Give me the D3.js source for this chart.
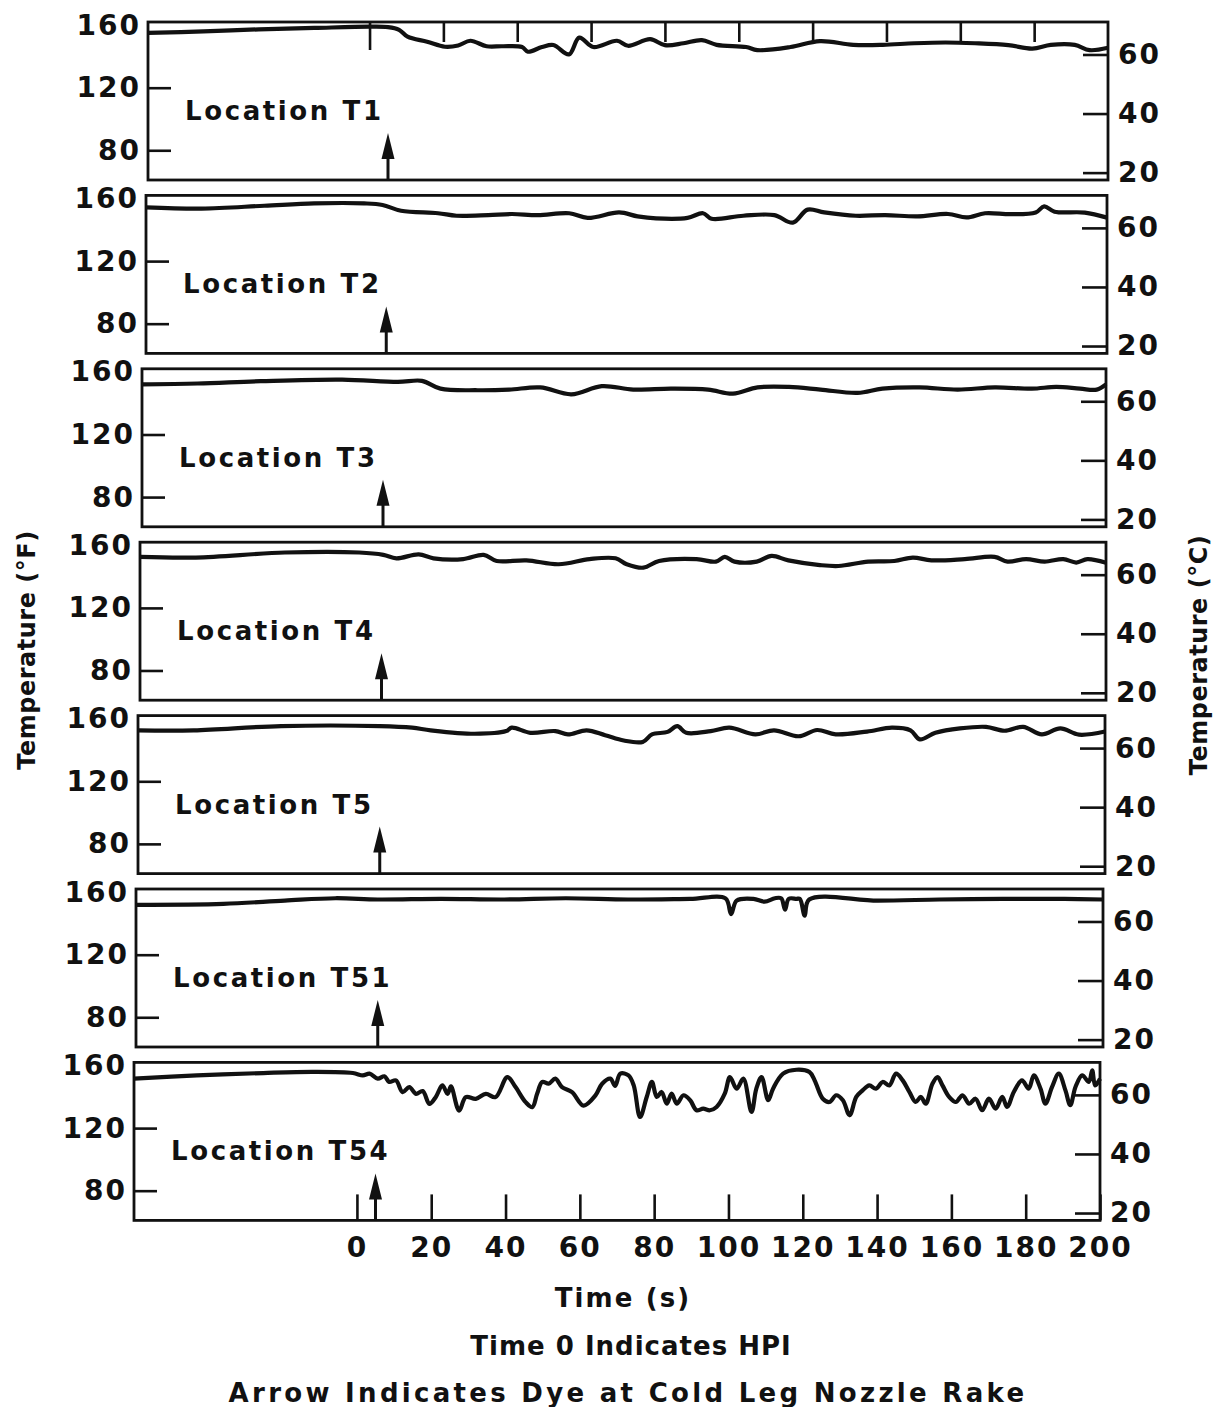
<!DOCTYPE html>
<html>
<head>
<meta charset="utf-8">
<script src="https://cdn.jsdelivr.net/npm/d3@7"></script>
<style>
 body{margin:0;background:#fff}
 text{font-family:"DejaVu Sans",sans-serif;font-weight:bold;fill:#111}
</style>
</head>
<body>
<svg width="1215" height="1407"></svg>
<script>
'use strict';
//..........Data (time s, temperature F)................
const seriesT1 = [[-60,155],[-45,156],[-30,157.3],[-15,158.2],[0,159],[5,158.7],[8,157],[10.3,152.6],[15.6,149.4],[20.4,146.2],[24,147],[27.3,150],[31.7,146.5],[36,146.5],[41.3,146],[42.9,143],[46.7,146],[49.8,147.3],[54,141.3],[56.8,152],[60.6,146],[67,150],[70,146.8],[76,151],[80,147.2],[85,148.4],[90,150.4],[94,147.4],[102,146],[105,144],[114,146],[122,149.8],[131,147.4],[139,147.4],[147.5,148.4],[156,148.9],[164,148.4],[173,147.2],[179.5,145],[184.5,147.4],[191,147.4],[195,144],[200,145.5]];
const seriesT2 = [[-60,154.4],[-45,153.6],[-28,155.4],[-14.5,156.9],[-1,156.9],[4,155.9],[9,152.2],[19,150.6],[24,149],[32.6,149.4],[39,150.1],[46,149.4],[54.5,150.6],[59.5,147.6],[68,151.1],[73,148.6],[78,147.3],[86.5,147.6],[90.7,150.6],[93,147.1],[101.6,149],[110,149.4],[115,144.6],[119,152.9],[123.5,151.1],[132,149],[140,149.4],[148.7,148.6],[157,150.1],[162,147.9],[167,150.6],[174,150],[180.7,151.1],[183,155],[185.8,151.6],[194,151],[200,147.8]];
const seriesT3 = [[-60,152.1],[-45,152.6],[-28,154.1],[-6,155.1],[9,153.6],[15.5,154.3],[20.5,149.3],[30.6,148.3],[39,148.7],[47.4,150.1],[55.8,145.7],[64,150.9],[72.5,148.7],[82.6,149.3],[92.7,148.7],[99.4,146.1],[106,150.1],[114.5,150.4],[123,148.7],[133,146.6],[139.7,149.3],[149.7,150.1],[160,148.7],[170,150.1],[180,149.3],[186.6,150.4],[193,149.3],[197.5,148.7],[200,152.1]];
const seriesT4 = [[-60,152.6],[-45,152.2],[-21,155.4],[-1,155.4],[5.5,153.9],[9,151.7],[15,154.2],[19,151.7],[27,151.2],[32.5,153.9],[36,150],[44,150.4],[52.7,147.9],[61,151.2],[68,151.7],[71,147.9],[75.5,145.7],[79.7,150],[89.8,151.2],[95,149.6],[97.4,152.6],[100,149.6],[106,149.6],[110,153.2],[114.5,150.4],[123,147.4],[128,146.8],[136,149.6],[143,150],[148,152.2],[153,150.4],[162,151.2],[170,152.6],[173.5,149.6],[178.5,151.2],[183.5,149.6],[188.5,151.2],[192,149],[195,151.2],[200,148.9]];
const seriesT5 = [[-60,152.6],[-45,152.6],[-21.5,155.3],[5,155.3],[13.7,154.3],[18.7,152.6],[30.5,150.4],[39,152.1],[40.5,154.3],[45.5,151],[52.2,152.1],[55.6,150],[60.6,152.6],[65.6,149.5],[70.6,146.1],[75.7,145.2],[78.2,150],[82.4,151.6],[85,155.3],[87.4,151],[94,152.1],[99,154.3],[106,150],[111,152.6],[117.6,148.8],[122.6,152.8],[127.6,150],[136,151.8],[142.7,154.3],[147.7,152.6],[150.2,146.8],[154.4,151],[161,153.8],[168,154.8],[173,152.3],[178,154.8],[183,150],[188,153.8],[193,149.8],[200,151.8]];
const seriesT51 = [[-60,151.9],[-36.5,152.5],[-20,154.6],[-6.4,156.1],[5,155.3],[22,155.7],[39,155.3],[55.6,156.1],[72.3,155.3],[89,155.7],[98.5,156],[100,146],[101.5,154.6],[106,155.7],[109,153.9],[111.8,156.1],[113.5,156],[114.5,148.8],[115.5,155.7],[117.6,155.7],[118.5,155.7],[119.8,145],[121,155.3],[139.5,154.6],[156,155.3],[173,155.7],[189.6,155.7],[200,155.3]];
const seriesT54 = [[-60,151.6],[-43.1,153.7],[-25.2,155.2],[-11.8,155.9],[-1.1,155.2],[1.6,153.7],[3.4,154.8],[5.6,151.6],[7.4,153.1],[8.7,149.5],[10.5,150.5],[12.3,143],[14.1,146.2],[15.9,141.9],[17.7,143.7],[19.5,135.5],[21.2,139.8],[23,147.3],[24.4,141.9],[25.3,146.7],[27.5,131.2],[29.3,139.8],[32,138.7],[34.7,141.9],[37.3,139.8],[40.5,152.6],[42.7,146.2],[45.4,136.6],[47.2,133.4],[48.5,141.9],[49.9,149.5],[51.6,148.4],[53.4,151.6],[55.2,146.2],[57.9,143],[61,134.4],[64.2,140.9],[66,148.4],[68.2,151.6],[69.5,147],[70.9,154.8],[73.1,153.7],[74.5,147.3],[76.2,127.1],[78,139.9],[79.4,149.5],[80.7,139.9],[82,143.1],[83.4,135.6],[84.7,142],[86.1,135.6],[87.9,141],[89.7,137.8],[91.4,131.4],[93.2,132.4],[95,131.4],[96.8,133.5],[99,142],[100.4,152.6],[102.2,145.2],[104,151.6],[106.2,130.3],[107.5,145.2],[108.9,152.6],[110.7,137.8],[112,145.2],[114.7,154.8],[118.3,157.3],[121.8,155.8],[123.2,150.5],[125.4,138.8],[127.2,136.7],[129,141],[130.8,137.8],[132.6,128.2],[134.4,139.9],[136.1,144.1],[137.9,147.3],[139.7,145.2],[141.5,149.5],[143.3,147.3],[145.1,154.8],[146.9,150.5],[148.7,143.1],[150.4,136.7],[151.8,139.9],[153.1,135.6],[154.9,148.4],[156.3,152.6],[157.6,147.3],[159.4,139.9],[161.2,136.7],[163,141],[164.8,135.6],[166.5,138.8],[168.3,131.4],[170.1,138.8],[171.9,132.4],[173.7,139.9],[175,133.5],[176.8,143.1],[179,150.5],[180.8,145.2],[182.2,153.7],[184,145.2],[185.3,135.6],[187.1,146.3],[188.9,154.8],[190.7,144.1],[192,134.6],[193.4,146.3],[195.2,153.7],[197,149.5],[197.9,156.9],[198.7,147.3],[200,151.6]];

const locations = ['T1','T2','T3','T4','T5','T51','T54'];
const allSeries = [seriesT1, seriesT2, seriesT3, seriesT4, seriesT5, seriesT51, seriesT54];
const timeTicks = [0,20,40,60,80,100,120,140,160,180,200];
const fTicks = [160,120,80];
const cTicks = [60,40,20];
const dyeTime = 5;

//..........Layout................
const svg = d3.select('svg');
const panel = { top: 22, pitch: 173.4, h: 158 };
// the scanned figure leans a little, so each panel sits a bit further left
const panelLeft = [148,146,142,140,138,136,134];
const panelRight = [1108,1107,1106,1106,1105,1103,1100];
const fDomain = [61, 162];
const cDomain = [17.5, 71];

const line = d3.line()
    .x(d => d.x).y(d => d.y)
    .curve(d3.curveCatmullRom.alpha(0.5));

allSeries.forEach((series, i) => {
  const top = panel.top + i * panel.pitch;
  const bottom = top + panel.h;
  const x = d3.scaleLinear().domain([-60, 200]).range([panelLeft[i], panelRight[i]]);
  const y = d3.scaleLinear().domain(fDomain).range([bottom, top]);
  const yC = d3.scaleLinear().domain(cDomain).range([bottom, top]);
  const g = svg.append('g');

  // left axis (F)
  const left = g.append('g')
      .attr('transform', `translate(${panelLeft[i]},0)`)
      .call(d3.axisLeft(y).tickValues(fTicks).tickSize(-23).tickPadding(7));
  left.select('.domain').remove();
  left.selectAll('.tick').filter(d => d === 160).select('line').remove();

  // right axis (C)
  const right = g.append('g')
      .attr('transform', `translate(${panelRight[i]},0)`)
      .call(d3.axisRight(yC).tickValues(cTicks).tickSize(-25).tickPadding(10));
  right.select('.domain').remove();

  // time ticks
  if (i === 0) {
    const topAx = g.append('g')
        .attr('transform', `translate(0,${top})`)
        .call(d3.axisTop(x).tickValues(timeTicks.slice(0, -1)).tickSize(-20).tickFormat(''));
    topAx.select('.domain').remove();
    topAx.selectAll('.tick').filter(d => d === 0).select('line').attr('y2', 28);
  }
  if (i === allSeries.length - 1) {
    const bottomAx = g.append('g')
        .attr('transform', `translate(0,${bottom})`)
        .call(d3.axisBottom(x).tickValues(timeTicks).tickSize(-26).tickPadding(17));
    bottomAx.select('.domain').remove();
  }

  g.selectAll('.tick line').attr('stroke', '#111').attr('stroke-width', 2.6);
  g.selectAll('.tick text')
      .attr('font-family', '"DejaVu Sans", sans-serif')
      .attr('font-weight', 'bold')
      .attr('font-size', 28)
      .attr('letter-spacing', 2)
      .attr('fill', '#111');

  // frame
  g.append('rect')
      .attr('x', panelLeft[i]).attr('y', top)
      .attr('width', panelRight[i] - panelLeft[i]).attr('height', panel.h)
      .attr('fill', 'none').attr('stroke', '#111').attr('stroke-width', 2.8);

  // trace
  g.append('path')
      .datum(series.map(d => ({ x: x(d[0]), y: y(d[1]) })))
      .attr('d', line)
      .attr('fill', 'none').attr('stroke', '#111')
      .attr('stroke-width', 4.2).attr('stroke-linejoin', 'round');

  // label
  g.append('text')
      .attr('x', panelLeft[i] + 37).attr('y', top + 98)
      .attr('font-size', 26).attr('letter-spacing', 2.6)
      .text(`Location ${locations[i]}`);

  // dye arrow
  const ax = x(dyeTime);
  g.append('line')
      .attr('x1', ax).attr('x2', ax)
      .attr('y1', bottom).attr('y2', bottom - 30)
      .attr('stroke', '#111').attr('stroke-width', 3);
  g.append('path')
      .attr('d', `M${ax},${bottom - 47}L${ax - 6.5},${bottom - 21}L${ax + 6.5},${bottom - 21}Z`)
      .attr('fill', '#111');
});

//..........Titles................
svg.append('text')
    .attr('transform', 'translate(35,650) rotate(-90)')
    .attr('text-anchor', 'middle').attr('font-size', 24).attr('letter-spacing', 0.5)
    .text('Temperature (°F)');
svg.append('text')
    .attr('transform', 'translate(1207,655) rotate(-90)')
    .attr('text-anchor', 'middle').attr('font-size', 24).attr('letter-spacing', 0.5)
    .text('Temperature (°C)');

const notes = [
  { text: 'Time (s)', x: 623, y: 1307, ls: 2.1 },
  { text: 'Time 0 Indicates HPI', x: 631, y: 1355, ls: 1 },
  { text: 'Arrow Indicates Dye at Cold Leg Nozzle Rake', x: 628, y: 1402, ls: 3.3 }
];
svg.selectAll('.note').data(notes).enter().append('text')
    .attr('class', 'note')
    .attr('x', d => d.x).attr('y', d => d.y)
    .attr('text-anchor', 'middle')
    .attr('font-size', 26).attr('letter-spacing', d => d.ls)
    .text(d => d.text);
</script>
</body>
</html>
